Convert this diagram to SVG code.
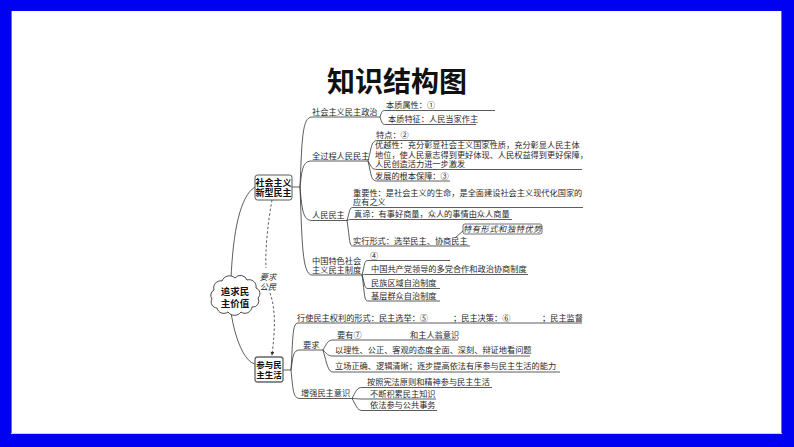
<svg xmlns="http://www.w3.org/2000/svg" width="794" height="447" viewBox="0 0 794 447">
<defs>
<style>
.t{font-family:"Noto Sans CJK SC","Noto Sans",sans-serif;font-size:8.2px;fill:#2a2a2a}
.b{font-family:"Noto Sans CJK SC","Noto Sans",sans-serif;font-weight:bold;fill:#111;text-anchor:middle}
.c{fill:none;stroke:#333;stroke-width:0.8}
.d{fill:none;stroke:#333;stroke-width:0.8;stroke-dasharray:2.5 2}
</style>
<marker id="arr" viewBox="0 0 6 6" refX="5" refY="3" markerWidth="5" markerHeight="5" orient="auto">
<path d="M0,0 L6,3 L0,6 z" fill="#333"/>
</marker>
</defs>
<rect x="0" y="0" width="794" height="447" fill="#0000f2"/>
<rect x="11" y="11" width="771" height="423" fill="#ffffff"/>
<line x1="11.5" y1="11" x2="11.5" y2="434" stroke="#6b7888" stroke-width="1"/>
<line x1="781.5" y1="11" x2="781.5" y2="434" stroke="#6b7888" stroke-width="1"/>
<line x1="11" y1="433.5" x2="782" y2="433.5" stroke="#c8d0e0" stroke-width="1"/>

<g id="title"><text x="397" y="92" class="b" font-size="28">知识结构图</text></g>

<g id="connectors">
<path class="c" d="M231,279 C233,232 240,196 255,187"/>
<path class="c" d="M231,312 C235,340 245,362 255,364"/>
<path class="d" d="M272,200 C268,222 265,250 266,268"/>
<path class="d" d="M270,293 C276,310 275,330 272,355" marker-end="url(#arr)"/>
<path class="c" d="M292,187 L300,187"/>
<path class="c" d="M300,187 C302,140 302,117 312,117 L380,117"/>
<path class="c" d="M300,187 C302,168 303,161 312,161 L368,161"/>
<path class="c" d="M300,187 C302,210 303,220.5 312,220.5 L347,220.5"/>
<path class="c" d="M300,187 C302,240 302,275 312,275 L362,275"/>
<path class="c" d="M380,117 C382,111 382,110.5 386,110.5 L495,110.5"/>
<path class="c" d="M380,117 C382,123 382,124.5 386,124.5 L476,124.5"/>
<path class="c" d="M368,161 C372,146 371,140.5 378,140.5 L495,140.5"/>
<path class="c" d="M368,161 C372,167 371,169.5 378,169.5 L582,169.5"/>
<path class="c" d="M368,161 C372,178 371,181 378,181 L450,181"/>
<path class="c" d="M347,220.5 C350,211 349,207.5 353,207.5 L583,207.5"/>
<path class="c" d="M347,220.5 C349,219.5 350,219.5 353,219.5 L512,219.5"/>
<path class="c" d="M347,220.5 C350,240 349,246 353,246 L470,246"/>
<path class="c" d="M464,230 L455,238"/>
<path class="c" d="M362,275 C365,264 364,260.5 368,260.5 L450,260.5"/>
<path class="c" d="M362,275 C364,274.5 365,274.5 368,274.5 L528,274.5"/>
<path class="c" d="M362,275 C365,284 364,288.5 368,288.5 L440,288.5"/>
<path class="c" d="M362,275 C365,295 364,301 368,301 L440,301"/>
<path class="c" d="M283,370 L291,370"/>
<path class="c" d="M291,370 C293,340 292,323 298,323 L582,323"/>
<path class="c" d="M291,370 C293,356 293,350 300,350 L323,350"/>
<path class="c" d="M291,370 C293,390 293,398.5 300,398.5 L352,398.5"/>
<path class="c" d="M323,350 C327,343 328,340 333,340 L458,340"/>
<path class="c" d="M323,350 C327,354 328,356 333,356 L530,356"/>
<path class="c" d="M323,350 C327,364 328,372 333,372 L560,372"/>
<path class="c" d="M352,398.5 C356,391 357,387.5 362,387.5 L492,387.5"/>
<path class="c" d="M352,398.5 C355,398.5 357,399 362,399 L436,399"/>
<path class="c" d="M352,398.5 C356,405 357,410.5 362,410.5 L437,410.5"/>
</g>

<g id="node-xinxing">
<rect x="255" y="175" width="37" height="25" rx="2.5" fill="#fff" stroke="#444" stroke-width="0.9"/>
<text class="b" font-size="9" x="273.5" y="185.5">社会主义</text>
<text class="b" font-size="9" x="273.5" y="196">新型民主</text>
</g>

<g id="node-zhuiqiu">
<path d="M214,290 A7,7 0 0 1 222,281 A8,8 0 0 1 235,278 A7,7 0 0 1 247,280 A7,7 0 0 1 256,288 A6,6 0 0 1 258,298 A6,6 0 0 1 252,307 A7,7 0 0 1 241,312 A8,8 0 0 1 228,312 A7,7 0 0 1 217,308 A6,6 0 0 1 212,299 A6,6 0 0 1 214,290 Z" fill="#fff" stroke="#333" stroke-width="0.9"/>
<text class="b" font-size="9.5" x="235" y="295">追求民</text>
<text class="b" font-size="9.5" x="235" y="306.5">主价值</text>
</g>

<g id="node-canyu">
<rect x="255" y="357" width="28" height="25" rx="2.5" fill="#fff" stroke="#666" stroke-width="1.3"/>
<text class="b" font-size="8.5" x="269" y="367.5">参与民</text>
<text class="b" font-size="8.5" x="269" y="378">主生活</text>
</g>

<g id="label-yaoqiu">
<text class="t" font-size="7.5" font-style="italic" x="268" y="280" text-anchor="middle">要求</text>
<text class="t" font-size="7.5" font-style="italic" x="268" y="289.5" text-anchor="middle">公民</text>
</g>

<g id="node-zhengzhi"><text class="t" x="312" y="114.5">社会主义民主政治</text></g>
<g id="leaf-shuxing"><text class="t" x="386" y="108">本质属性：①</text></g>
<g id="leaf-tezheng"><text class="t" x="388" y="122">本质特征：人民当家作主</text></g>

<g id="node-quanguocheng"><text class="t" x="312" y="158.5">全过程人民民主</text></g>
<g id="leaf-tedian"><text class="t" x="376" y="138">特点：②</text></g>
<g id="leaf-youyue">
<text class="t" x="375" y="148">优越性：充分彰显社会主义国家性质，充分彰显人民主体</text>
<text class="t" x="375" y="157.5">地位，使人民意志得到更好体现、人民权益得到更好保障，</text>
<text class="t" x="375" y="167">人民创造活力进一步激发</text>
</g>
<g id="leaf-baozhang"><text class="t" x="375" y="178.5">发展的根本保障：③</text></g>

<g id="node-renmin"><text class="t" x="312" y="218">人民民主</text></g>
<g id="leaf-zhongyao">
<text class="t" x="353" y="196">重要性：是社会主义的生命，是全面建设社会主义现代化国家的</text>
<text class="t" x="353" y="205">应有之义</text>
</g>
<g id="leaf-zhendi"><text class="t" x="354" y="217">真谛：有事好商量，众人的事情由众人商量</text></g>
<g id="leaf-shixing"><text class="t" x="353" y="243.5">实行形式：选举民主、协商民主</text></g>
<g id="callout-tedu">
<rect x="463" y="224" width="79" height="10" rx="2" fill="#fff" stroke="#333" stroke-width="0.7"/>
<text class="t" font-size="7.2" font-style="italic" letter-spacing="0.6" x="502.5" y="231.8" text-anchor="middle">特有形式和独特优势</text>
</g>

<g id="node-zhidu">
<text class="t" x="312" y="264">中国特色社会</text>
<text class="t" x="312" y="273">主义民主制度</text>
</g>
<g id="leaf-4"><text class="t" x="370" y="258.5">④</text></g>
<g id="leaf-duodang"><text class="t" x="371" y="272">中国共产党领导的多党合作和政治协商制度</text></g>
<g id="leaf-minzu"><text class="t" x="371" y="286">民族区域自治制度</text></g>
<g id="leaf-jiceng"><text class="t" x="371" y="298.5">基层群众自治制度</text></g>

<g id="node-xingshi">
<text class="t" x="297" y="320.5">行使民主权利的形式：民主选举：⑤</text>
<text class="t" x="453" y="320.5">；民主决策：⑥</text>
<text class="t" x="542" y="320.5">；民主监督</text>
</g>
<g id="node-yaoqiu"><text class="t" x="303" y="348">要求</text></g>
<g id="leaf-yaoyou">
<text class="t" x="337" y="337.5">要有⑦</text>
<text class="t" x="410" y="337.5">和主人翁意识</text>
</g>
<g id="leaf-lixing"><text class="t" x="335" y="353">以理性、公正、客观的态度全面、深刻、辩证地看问题</text></g>
<g id="leaf-lichang"><text class="t" x="335" y="369">立场正确、逻辑清晰；逐步提高依法有序参与民主生活的能力</text></g>
<g id="node-zengqiang"><text class="t" x="301" y="396">增强民主意识</text></g>
<g id="leaf-xianfa"><text class="t" x="367" y="385">按照宪法原则和精神参与民主生活</text></g>
<g id="leaf-jilei"><text class="t" x="370" y="396.5">不断积累民主知识</text></g>
<g id="leaf-yifa"><text class="t" x="370" y="408">依法参与公共事务</text></g>
</svg>
